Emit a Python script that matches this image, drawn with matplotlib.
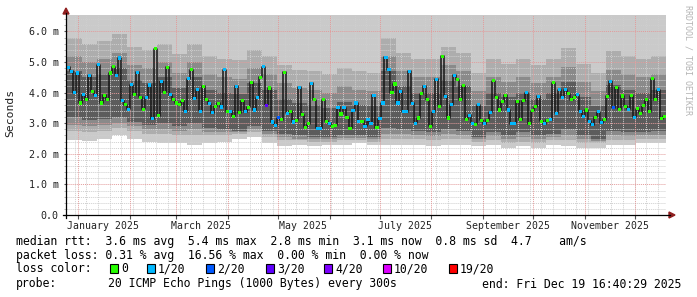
import numpy as np
import matplotlib
matplotlib.use('Agg')
import matplotlib.pyplot as plt
import matplotlib.dates as mdates
from matplotlib.patches import Rectangle, Polygon
from matplotlib.lines import Line2D
from datetime import datetime, timedelta

W, H = 697, 297

end_time = datetime(2025, 12, 19, 16, 40, 29)
span_days = 359.2

# median rtt (ms), one value per ~1.8 days
median_ms = [
    4.83, 4.70, 3.99, 4.64, 3.66, 3.93, 3.77, 4.57, 4.04, 3.91,
    4.91, 3.66, 3.91, 3.77, 4.64, 4.84, 4.57, 5.13, 3.74, 3.61,
    3.45, 4.26, 3.93, 4.67, 3.85, 3.45, 3.83, 4.25, 3.15, 5.43,
    3.25, 4.37, 4.01, 4.83, 3.93, 3.77, 3.66, 3.61, 3.74, 3.39,
    4.46, 4.75, 3.80, 4.09, 3.39, 4.21, 3.77, 3.63, 3.34, 3.55,
    3.65, 3.53, 4.75, 3.37, 3.39, 3.23, 4.20, 3.34, 3.74, 3.37,
    3.52, 4.34, 3.43, 3.83, 4.50, 4.84, 3.59, 4.15, 3.04, 2.93,
    3.18, 3.11, 4.67, 3.33, 3.39, 3.04, 3.09, 4.17, 3.28, 2.87,
    2.98, 4.30, 3.77, 2.83, 2.83, 3.77, 3.07, 3.00, 2.90, 2.93,
    3.52, 3.30, 3.50, 3.20, 2.83, 3.41, 3.66, 3.07, 3.07, 2.90,
    3.12, 2.98, 3.91, 2.85, 3.15, 3.66, 5.15, 4.75, 3.99, 4.28,
    3.66, 4.04, 3.37, 3.37, 4.70, 3.65, 3.00, 3.17, 3.96, 4.20,
    3.77, 2.90, 3.37, 4.43, 3.55, 5.18, 3.88, 3.17, 3.61, 4.57,
    4.42, 3.77, 4.23, 3.13, 3.26, 3.00, 2.96, 3.61, 3.09, 2.99,
    3.09, 3.35, 4.39, 3.85, 3.43, 3.70, 3.91, 3.43, 2.98, 3.00,
    3.72, 3.12, 3.74, 3.99, 2.98, 3.41, 3.54, 3.88, 3.07, 2.98,
    3.09, 3.12, 4.33, 3.33, 4.10, 3.85, 4.10, 3.96, 3.77, 3.85,
    3.93, 3.39, 3.22, 3.43, 3.07, 2.95, 3.20, 3.37, 3.01, 3.12,
    3.88, 4.37, 3.50, 4.17, 3.46, 3.89, 3.55, 3.46, 3.90, 3.20,
    3.48, 3.33, 3.57, 3.76, 3.37, 4.45, 3.76, 4.10, 3.15, 3.23,
]
# lost pings out of 20 for each median sample
loss_n = [
    1, 1, 1, 1, 0, 1, 0, 1, 0, 1,
    1, 0, 0, 0, 0, 0, 1, 1, 1, 0,
    1, 1, 0, 1, 0, 0, 1, 1, 1, 0,
    0, 1, 0, 0, 1, 0, 0, 0, 0, 1,
    1, 0, 1, 1, 1, 0, 0, 1, 1, 0,
    0, 1, 1, 0, 1, 0, 1, 0, 0, 1,
    0, 0, 1, 1, 0, 1, 3, 0, 1, 1,
    2, 0, 0, 1, 0, 1, 0, 1, 0, 0,
    0, 1, 0, 1, 1, 0, 0, 1, 0, 0,
    1, 0, 1, 0, 0, 1, 1, 1, 0, 1,
    1, 1, 1, 0, 1, 1, 1, 1, 0, 0,
    1, 1, 1, 1, 1, 1, 1, 0, 0, 1,
    0, 0, 1, 1, 0, 0, 1, 0, 1, 1,
    0, 0, 0, 0, 1, 1, 0, 1, 0, 1,
    0, 1, 0, 0, 0, 0, 0, 1, 1, 1,
    0, 0, 0, 1, 0, 0, 0, 1, 0, 1,
    0, 1, 0, 1, 1, 1, 1, 0, 0, 0,
    1, 1, 1, 0, 1, 1, 0, 1, 1, 0,
    0, 1, 2, 0, 0, 0, 0, 1, 0, 1,
    0, 0, 0, 0, 0, 0, 0, 1, 0, 0,
]

# smoke bands (ms), one value per ~9 days, outer to inner
smoke_lo = [2.45, 2.42, 2.50, 2.60, 2.50, 2.40, 2.35, 2.35, 2.30, 2.35,
            2.40, 2.50, 2.55, 2.35, 2.25, 2.30, 2.25, 2.30, 2.30, 2.35,
            2.30, 2.30, 2.30, 2.30, 2.25, 2.30, 2.30, 2.25, 2.30, 2.20,
            2.25, 2.20, 2.30, 2.25, 2.20, 2.20, 2.30, 2.30, 2.35, 2.35]
smoke_mid_lo = [2.75, 2.70, 2.75, 2.85, 2.75, 2.65, 2.65, 2.60, 2.60, 2.60,
                2.60, 2.65, 2.70, 2.55, 2.45, 2.45, 2.40, 2.40, 2.45, 2.45,
                2.40, 2.50, 2.50, 2.50, 2.45, 2.50, 2.50, 2.40, 2.45, 2.35,
                2.40, 2.35, 2.45, 2.45, 2.35, 2.35, 2.45, 2.45, 2.50, 2.50]
smoke_mid_hi = [5.80, 5.60, 5.70, 5.90, 5.50, 5.40, 5.60, 5.25, 5.60, 5.20,
                5.10, 5.05, 5.40, 5.20, 4.90, 4.75, 4.70, 4.60, 4.80, 4.70,
                4.65, 5.80, 5.30, 5.10, 5.10, 5.50, 5.30, 4.65, 5.10, 4.95,
                5.10, 4.90, 5.10, 5.45, 4.95, 4.65, 5.35, 5.20, 5.10, 5.20]
smoke_q_lo = [2.95, 2.90, 2.95, 3.00, 2.90, 2.80, 2.80, 2.75, 2.80, 2.70,
              2.70, 2.70, 2.80, 2.65, 2.55, 2.50, 2.48, 2.48, 2.52, 2.52,
              2.48, 2.65, 2.65, 2.62, 2.58, 2.65, 2.62, 2.48, 2.58, 2.48,
              2.55, 2.48, 2.55, 2.62, 2.48, 2.42, 2.60, 2.58, 2.60, 2.62]
smoke_q_hi = [5.20, 5.00, 5.10, 5.30, 4.90, 4.80, 5.00, 4.65, 5.00, 4.60,
              4.50, 4.45, 4.80, 4.60, 4.30, 4.15, 4.10, 4.00, 4.20, 4.10,
              4.05, 5.20, 4.70, 4.50, 4.50, 4.90, 4.70, 4.05, 4.50, 4.35,
              4.50, 4.30, 4.50, 4.85, 4.35, 4.05, 4.75, 4.60, 4.50, 4.60]
smoke_dark_lo = [3.20, 3.10, 3.15, 3.20, 3.05, 2.95, 3.00, 2.90, 3.00, 2.85,
                 2.80, 2.75, 2.90, 2.75, 2.65, 2.60, 2.55, 2.55, 2.60, 2.60,
                 2.55, 2.85, 2.80, 2.75, 2.70, 2.80, 2.75, 2.55, 2.70, 2.60,
                 2.70, 2.60, 2.65, 2.80, 2.60, 2.50, 2.75, 2.70, 2.70, 2.75]
smoke_dark_hi = [4.70, 4.50, 4.60, 4.80, 4.40, 4.30, 4.50, 4.15, 4.50, 4.10,
                 4.00, 3.95, 4.30, 4.10, 3.80, 3.65, 3.60, 3.50, 3.70, 3.60,
                 3.55, 4.70, 4.20, 4.00, 4.00, 4.40, 4.20, 3.55, 4.00, 3.85,
                 4.00, 3.80, 4.00, 4.35, 3.85, 3.55, 4.25, 4.10, 4.00, 4.10]

loss_colors = {0: '#26ff00', 1: '#00b8ff', 2: '#0059ff', 3: '#5e00ff',
               4: '#7e00ff', 10: '#dd00ff', 19: '#ff0000'}
loss_labels = ['0', '1/20', '2/20', '3/20', '4/20', '10/20', '19/20']
box_x = [110, 147, 206, 266, 324, 383, 449]

plt.rcParams['font.family'] = ['DejaVu Sans Mono']

fig = plt.figure(figsize=(W / 100, H / 100), dpi=100)
fig.patch.set_facecolor('white')


def fx(x):
    return x / W


def fy(y):
    return 1 - y / H


ax = fig.add_axes([fx(67), fy(215), (666 - 67) / W, 200 / H])
ax.set_facecolor('white')
for s in ax.spines.values():
    s.set_visible(False)

t1 = mdates.date2num(end_time)
t0 = t1 - span_days
ymax = 200 / 30.6

# smoke
nc = len(smoke_lo)
edges = t0 + np.arange(nc + 1) * span_days / nc


def ext(a):
    return np.append(a, a[-1])


ax.fill_between(edges, ext(smoke_lo), ymax, step='post', color='#cacaca', lw=0, zorder=1)
ax.fill_between(edges, ext(smoke_mid_lo), ext(smoke_mid_hi), step='post', color='#adadad', lw=0, zorder=1.1)
ax.fill_between(edges, ext(smoke_q_lo), ext(smoke_q_hi), step='post', color='#8a8a8a', lw=0, zorder=1.2)
ax.fill_between(edges, ext(smoke_dark_lo), ext(smoke_dark_hi), step='post', color='#5c5c5c', lw=0, zorder=1.3)

# grid
dot = (0, (1, 1))
for v in np.arange(0.2, ymax, 0.2):
    if abs(v - round(v)) > 0.01:
        ax.axhline(v, color='#cfcfcf', lw=0.7, ls=dot, zorder=3)
for v in range(1, 7):
    ax.axhline(v, color='#e39b9b', lw=0.7, ls=dot, zorder=3.1)

week = datetime(2024, 12, 16)
while mdates.date2num(week) < t1:
    if mdates.date2num(week) > t0:
        ax.axvline(mdates.date2num(week), color='#cfcfcf', lw=0.7, ls=dot, zorder=3)
    week += timedelta(weeks=1)
month_starts = [mdates.date2num(datetime(2025, m, 1)) for m in range(1, 13)]
for m in month_starts:
    ax.axvline(m, color='#e39b9b', lw=0.7, ls=dot, zorder=3.1)

# medians
n = len(median_ms)
step = span_days / n
tm = t0 + (np.arange(n) + 0.5) * step
ax.plot(tm, median_ms, drawstyle='steps-mid', color='#161616', lw=1.1, zorder=4)
ax.scatter(tm, median_ms, marker='s', s=5, linewidths=0,
           c=[loss_colors[l] for l in loss_n], zorder=5)

ax.set_xlim(t0, t1)
ax.set_ylim(0, ymax)

ax.set_yticks(range(7))
ax.set_yticklabels(['0.0'] + ['%d.0 m' % v for v in range(1, 7)])
ax.set_yticks(np.arange(0, ymax, 0.2), minor=True)
ax.tick_params(axis='y', which='major', length=2, pad=4, labelsize=7.2,
               labelcolor='#222222', color='#555555')
ax.tick_params(axis='y', which='minor', length=2, color='#aaaaaa')

ax.set_xticks(month_starts)
ax.set_xticklabels([''] * len(month_starts))
lab_pos = [mdates.date2num(datetime(2025, m, 16)) for m in (1, 3, 5, 7, 9, 11)]
ax.set_xticks(lab_pos, minor=True)
ax.set_xticklabels(['January 2025', 'March 2025', 'May 2025', 'July 2025',
                    'September 2025', 'November 2025'], minor=True)
ax.tick_params(axis='x', which='major', length=3, color='#555555')
ax.tick_params(axis='x', which='minor', length=0, pad=4, labelsize=7.1,
               labelcolor='#222222')

# axes lines and arrows
arrow_c = '#8f1f1f'
fig.add_artist(Line2D([fx(63), fx(670)], [fy(215), fy(215)], color='black', lw=0.9))
fig.add_artist(Line2D([fx(66), fx(66)], [fy(218), fy(13)], color='black', lw=0.9))
fig.add_artist(Polygon([(fx(63), fy(14)), (fx(69), fy(14)), (fx(66), fy(8))],
                       closed=True, color=arrow_c, transform=fig.transFigure))
fig.add_artist(Polygon([(fx(669), fy(212)), (fx(669), fy(218)), (fx(675), fy(215))],
                       closed=True, color=arrow_c, transform=fig.transFigure))

# labels
fig.text(fx(10), fy(113), 'Seconds', rotation=90, ha='center', va='center',
         fontsize=8.2, color='#222222')
fig.text(fx(688), fy(60), 'RRDTOOL / TOBI OETIKER', rotation=270, ha='center',
         va='center', fontsize=6, color='#b4b4b4')

fs = 8.3
fig.text(fx(16), fy(241), 'median rtt:  3.6 ms avg  5.4 ms max  2.8 ms min  3.1 ms now  0.8 ms sd  4.7    am/s',
         fontsize=fs, va='center')
fig.text(fx(16), fy(255), 'packet loss: 0.31 % avg  16.56 % max  0.00 % min  0.00 % now',
         fontsize=fs, va='center')
fig.text(fx(16), fy(269), 'loss color:', fontsize=fs, va='center')
for bx, lab, key in zip(box_x, loss_labels, [0, 1, 2, 3, 4, 10, 19]):
    fig.add_artist(Rectangle((fx(bx), fy(273)), 8 / W, 9 / H, transform=fig.transFigure,
                             facecolor=loss_colors[key], edgecolor='black', lw=0.8))
    fig.text(fx(bx + 11), fy(269), lab, fontsize=fs, va='center')
fig.text(fx(16), fy(284), 'probe:', fontsize=fs, va='center')
fig.text(fx(108), fy(284), '20 ICMP Echo Pings (1000 Bytes) every 300s', fontsize=fs, va='center')
fig.text(fx(681), fy(284), 'end: Fri Dec 19 16:40:29 2025', fontsize=fs, va='center', ha='right')

fig.savefig('out.png', dpi=100)
